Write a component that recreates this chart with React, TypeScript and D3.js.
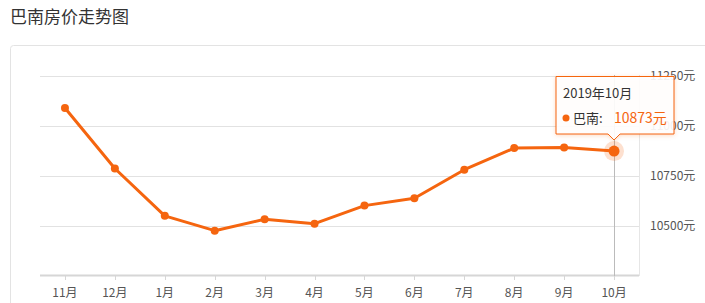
import React from "react";
import * as d3 from "d3";

const months = ["11月", "12月", "1月", "2月", "3月", "4月", "5月", "6月", "7月", "8月", "9月", "10月"];
const prices = [11088, 10786, 10550, 10476, 10533, 10511, 10601, 10638, 10780, 10888, 10891, 10873];
const yTicks = [10500, 10750, 11000, 11250];
const title = "巴南房价走势图";
const seriesName = "巴南";
const tooltipTitle = "2019年10月";
const highlightIndex = 11;

const W = 705;
const H = 303;
const FONT = "'Noto Sans CJK SC', 'Noto Sans', sans-serif";
const ORANGE = "#f5650f";

export default function App() {
  const x = d3.scaleBand<string>().domain(months).range([40, 639]);
  const y = d3.scaleLinear().domain([10250, 11250]).range([276, 75.5]);
  const cx = (m: string) => (x(m) as number) + x.bandwidth() / 2;
  const line = d3
    .line<number>()
    .x((_, i) => cx(months[i]))
    .y((d) => y(d));
  const hx = cx(months[highlightIndex]);
  const hy = y(prices[highlightIndex]);
  const tipL = 556, tipT = 76.5, tipR = 674, tipB = 134;

  return (
    <div style={{ position: "absolute", left: 0, top: 0 }}>
      <svg width={W} height={H} style={{ display: "block", fontFamily: FONT }}>
        <defs>
          <filter id="sh" x="-20%" y="-20%" width="140%" height="150%">
            <feDropShadow dx="0" dy="1" stdDeviation="2" floodColor="#f5650f" floodOpacity="0.25" />
          </filter>
        </defs>
        <rect width={W} height={H} fill="#fff" />
        <text x={10} y={23} fontSize={17} fill="#333">{title}</text>
        <rect x={10.5} y={45.5} width={760} height={300} rx={3} fill="none" stroke="#e3e3e3" />
        {yTicks.map((t) => (
          <g key={t}>
            <line x1={40} x2={639} y1={Math.round(y(t)) + 0.5} y2={Math.round(y(t)) + 0.5} stroke="#e2e2e2" />
            <text x={650} y={y(t) + 4} fontSize={12} fill="#555">{t}元</text>
          </g>
        ))}
        <line x1={639.5} x2={639.5} y1={75} y2={276} stroke="#e6e6e6" />
        <line x1={40} x2={639} y1={275.5} y2={275.5} stroke="#d6d6d6" strokeWidth={2} />
        {months.map((m) => (
          <g key={m}>
            <line x1={Math.round(cx(m)) + 0.5} x2={Math.round(cx(m)) + 0.5} y1={276} y2={280} stroke="#d6d6d6" />
            <text x={cx(m)} y={297} fontSize={12} fill="#555" textAnchor="middle">{m}</text>
          </g>
        ))}
        <line x1={Math.round(hx) + 0.5} x2={Math.round(hx) + 0.5} y1={75} y2={276} stroke="#bbb" />
        <path d={line(prices) || ""} fill="none" stroke={ORANGE} strokeWidth={3} strokeLinejoin="round" />
        {prices.map((p, i) =>
          i === highlightIndex ? null : (
            <circle key={i} cx={cx(months[i])} cy={y(p)} r={4} fill={ORANGE} />
          )
        )}
        <circle cx={hx} cy={hy} r={10} fill={ORANGE} opacity={0.2} />
        <circle cx={hx} cy={hy} r={5.5} fill={ORANGE} />
        <g filter="url(#sh)">
          <path
            d={`M${tipL},${tipT} H${tipR} V${tipB} H${hx + 6} L${hx},${tipB + 6} L${hx - 6},${tipB} H${tipL} Z`}
            fill="rgba(255,255,255,0.9)"
            stroke={ORANGE}
            strokeWidth={1}
          />
        </g>
        <text x={563} y={98} fontSize={13} fill="#333">{tooltipTitle}</text>
        <circle cx={566} cy={118} r={3.5} fill={ORANGE} />
        <text x={573} y={123} fontSize={13} fill="#333">{seriesName}:</text>
        <text x={614} y={123} fontSize={14} fill={ORANGE}>{prices[highlightIndex]}元</text>
      </svg>
    </div>
  );
}
